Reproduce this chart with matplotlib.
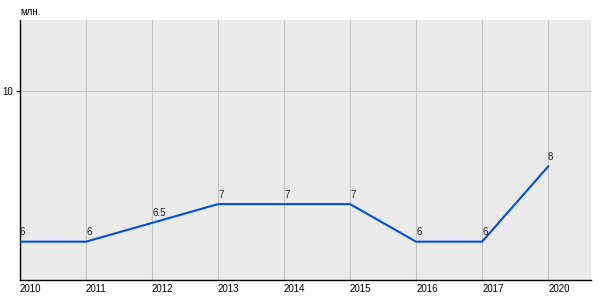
import matplotlib
matplotlib.use("Agg")
import matplotlib.pyplot as plt

years = ["2010", "2011", "2012", "2013", "2014", "2015", "2016", "2017", "2020"]
values = [6, 6, 6.5, 7, 7, 7, 6, 6, 8]
labels = ["6", "6", "6.5", "7", "7", "7", "6", "6", "8"]
y_ticks = [10]
unit = "млн."

plt.rcParams['font.family'] = ['Liberation Sans', 'DejaVu Sans']

fig = plt.figure(figsize=(6, 3), dpi=100)
ax = fig.add_axes([20/600, 20/300, 571/600, 260/300])
ax.set_facecolor('#ebebeb')
x = list(range(len(years)))
ax.plot(x, values, color='#0050e6', lw=1.5, zorder=3)
for xi, v, lab in zip(x, values, labels):
    ax.text(xi, v + 0.12, lab, fontsize=7, ha='left', va='bottom', color='#222222')

ax.set_xlim(0, 8.65)
ax.set_ylim(4.98, 11.9)
ax.set_xticks(x)
ax.set_xticklabels(years, fontsize=7, ha='left')
ax.set_yticks(y_ticks)
ax.set_yticklabels([str(t) for t in y_ticks], fontsize=7)
ax.tick_params(axis='x', length=0, pad=3)
ax.tick_params(axis='y', length=3, width=0.8, pad=2)
ax.grid(True, color='#c4c4c4', lw=0.8, zorder=0)
ax.set_axisbelow(True)
for s in ['top', 'right']:
    ax.spines[s].set_visible(False)
for s in ['left', 'bottom']:
    ax.spines[s].set_color('black')
    ax.spines[s].set_linewidth(1.0)
fig.text(20/600, 1 - 12/300, unit, fontsize=7, ha='left', va='center')
fig.savefig('out.png', dpi=100)
